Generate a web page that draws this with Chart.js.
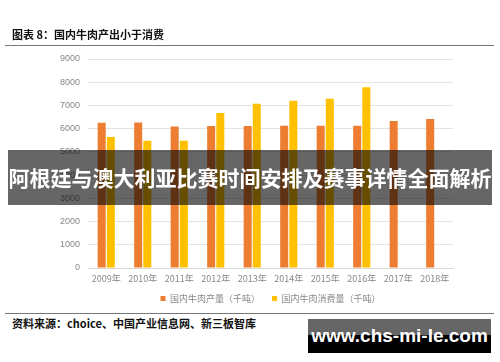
<!DOCTYPE html>
<html>
<head>
<meta charset="utf-8">
<script src="https://cdn.jsdelivr.net/npm/chart.js@4"></script>
<style>
  body { margin: 0; background: #fff; }
  #wrap { position: relative; width: 500px; height: 362px; overflow: hidden; font-family: "Noto Sans CJK SC", sans-serif; }
  #myChart { position: absolute; left: 0; top: 0; }
  .title { position: absolute; left: 12px; top: 26px; font-size: 11px; font-weight: bold; color: #111; }
  .line { position: absolute; left: 5px; width: 489px; height: 1px; background: #777; }
  .source { position: absolute; left: 12px; top: 315px; font-size: 11px; font-weight: bold; color: #111; }
  .banner { position: absolute; left: 8px; top: 150px; width: 484px; height: 55px; background: rgba(0,0,0,0.6);
    color: #fff; font-size: 21px; font-weight: bold; text-align: center; line-height: 55px; white-space: nowrap; }
  .mark { position: absolute; left: 308px; top: 319px; width: 183px; height: 34px;
    background: linear-gradient(#666 0, #666 48%, #000 48%, #000 100%);
    color: #fff; font-family: "Liberation Sans", Arial, sans-serif; font-size: 19px; font-weight: bold; text-align: center; line-height: 34px; white-space: nowrap; }
</style>
</head>
<body>
<div id="wrap">
  <canvas id="myChart" width="500" height="313"></canvas>
  <div class="title">图表 8：国内牛肉产出小于消费</div>
  <div class="line" style="top:45px"></div>
  <div class="line" style="top:313px"></div>
  <div class="source">资料来源：choice、中国产业信息网、新三板智库</div>
  <div class="banner">阿根廷与澳大利亚比赛时间安排及赛事详情全面解析</div>
  <div class="mark">www.chs-mi-le.com</div>
</div>
<script>
// du lieu
var years = ['2009年', '2010年', '2011年', '2012年', '2013年', '2014年', '2015年', '2016年', '2017年', '2018年'];
var production = [6250, 6270, 6090, 6120, 6110, 6130, 6130, 6130, 6330, 6420];
var consumption = [5640, 5480, 5480, 6670, 7070, 7200, 7290, 7780, null, null];
var yTicks = [0, 1000, 2000, 3000, 4000, 5000, 6000, 7000, 8000, 9000];

var data = {
  labels: years,
  datasets: [{
    label: '国内牛肉产量（千吨）',
    backgroundColor: '#ED7D31',
    data: production
  }, {
    label: '国内牛肉消费量（千吨）',
    backgroundColor: '#FFC000',
    data: consumption
  }]
};

var options = {
  responsive: false,
  animation: false,
  layout: { padding: { left: 0, right: 47, top: 59, bottom: 0 } },
  datasets: { bar: { categoryPercentage: 0.5, barPercentage: 0.88 } },
  plugins: {
    tooltip: { enabled: false },
    legend: {
      position: 'bottom',
      fullSize: false,
      labels: {
        boxWidth: 5, boxHeight: 5, padding: 12,
        color: '#888',
        font: { size: 9, family: '"Noto Sans CJK SC", sans-serif' }
      }
    }
  },
  scales: {
    x: {
      afterFit: function (scale) { scale.height = 14; },
      grid: { display: false, drawTicks: false },
      border: { color: '#d9d9d9' },
      ticks: { color: '#888', padding: 5, font: { size: 9, family: '"Noto Sans CJK SC", sans-serif' } }
    },
    y: {
      min: 0, max: 9000,
      afterFit: function (scale) { scale.width = 88; },
      afterBuildTicks: function (scale) { scale.ticks = yTicks.map(function (v) { return { value: v }; }); },
      grid: { color: '#e3e3e3', drawTicks: false },
      border: { display: false },
      ticks: {
        color: '#888', padding: 8,
        font: { size: 9, family: '"Liberation Sans", sans-serif' },
        callback: function (v) { return String(v); }
      }
    }
  }
};

var ctx = document.getElementById('myChart').getContext('2d');
var myChart = new Chart(ctx, { type: 'bar', data: data, options: options });
</script>
</body>
</html>
